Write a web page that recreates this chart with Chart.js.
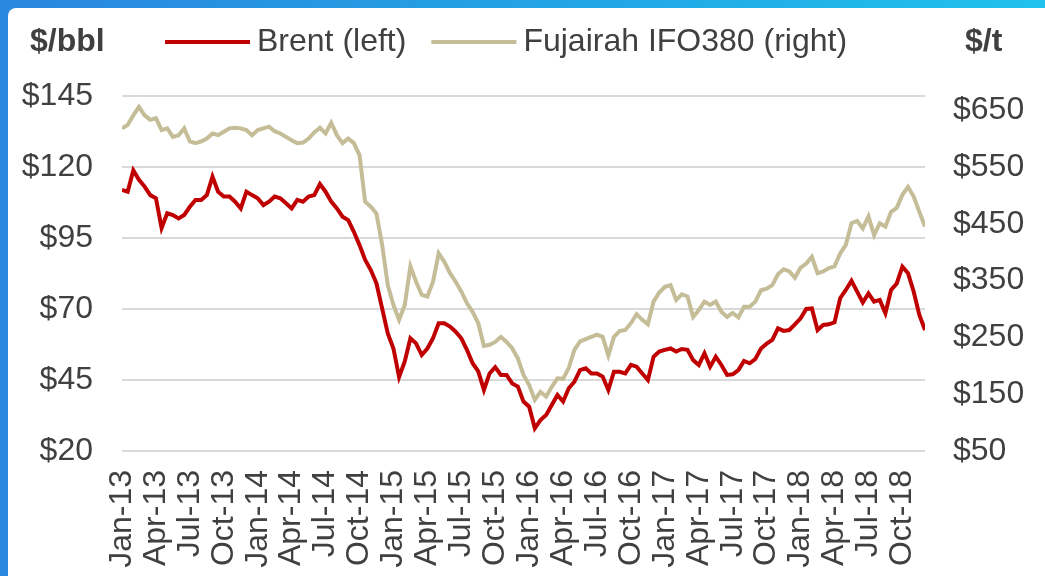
<!DOCTYPE html>
<html>
<head>
<meta charset="utf-8">
<script src="https://cdn.jsdelivr.net/npm/chart.js@4.4.1/dist/chart.umd.min.js"></script>
<style>
  html, body { margin: 0; padding: 0; background: #ffffff; }
  #wrap { position: relative; width: 1045px; height: 576px; overflow: hidden;
          background: linear-gradient(90deg, #2a86de 0%, #22a8e6 60%, #20c2ec 100%); }
  #panel { position: absolute; left: 8px; top: 8px; right: 0; bottom: 0; background: #ffffff;
           border-top-left-radius: 8px; }
  #c { position: absolute; left: 0; top: 0; }
</style>
</head>
<body>
<div id="wrap">
  <div id="panel"></div>
  <canvas id="c" width="1045" height="576"></canvas>
</div>
<script>
// ---- Data (semi-monthly readings, Jan 2013 -> Nov 2018) ----
const quarterLabels = ['Jan-13','Apr-13','Jul-13','Oct-13','Jan-14','Apr-14','Jul-14','Oct-14',
  'Jan-15','Apr-15','Jul-15','Oct-15','Jan-16','Apr-16','Jul-16','Oct-16',
  'Jan-17','Apr-17','Jul-17','Oct-17','Jan-18','Apr-18','Jul-18','Oct-18'];
const leftTicks = [20, 45, 70, 95, 120, 145];
const rightTicks = [50, 150, 250, 350, 450, 550, 650];

const brentLabel = 'Brent (left)';
const ifoLabel = 'Fujairah IFO380 (right)';

const brent = [
  111.9,111.3,118.8,115.5,113.1,110.1,109.0,98.5,103.7,103.1,101.9,103.1,
  106.0,108.4,108.4,110.1,116.6,111.3,109.6,109.6,107.8,105.4,111.3,110.1,
  109.0,106.6,107.8,109.6,109.0,107.2,105.4,108.4,107.8,109.6,110.1,114.0,
  111.3,107.8,105.4,102.5,101.3,97.2,92.5,87.3,83.7,79.0,70.2,61.4,
  56.1,46.0,51.5,59.7,57.9,53.8,56.1,59.7,65.0,65.0,63.8,62.0,
  59.7,55.6,50.9,48.0,41.5,47.3,49.5,46.8,46.8,43.8,42.7,37.4,
  35.6,28.0,30.9,32.7,36.2,39.7,37.4,42.1,44.4,48.5,49.1,47.3,
  47.3,46.2,41.5,47.9,47.9,47.3,50.3,49.7,47.3,45.0,53.2,55.0,
  55.6,56.1,55.0,55.9,55.6,52.0,50.3,54.4,49.7,53.2,50.3,46.8,
  47.0,48.5,51.7,50.9,52.4,56.1,57.8,59.1,63.2,62.3,62.6,64.6,
  66.7,70.0,70.2,62.6,64.4,64.6,65.3,73.8,76.7,79.9,76.1,72.3,
  75.5,72.6,73.2,68.5,76.7,79.0,84.9,82.6,76.1,67.9,62.6
];
const ifo380 = [
  618,624,641,656,641,633,636,615,618,603,606,618,
  595,592,595,600,609,606,612,618,619,618,615,606,
  615,618,621,613,609,603,597,592,593,600,611,619,
  609,628,606,592,600,592,571,489,480,468,413,342,
  307,281,307,375,348,325,322,348,398,383,363,348,
  331,310,295,275,235,237,242,251,242,231,213,184,
  166,140,154,146,163,178,177,196,228,243,247,251,
  255,251,218,251,261,263,275,291,281,273,313,329,
  339,342,316,326,322,286,298,313,307,313,295,286,
  293,285,304,304,313,333,336,342,361,370,366,355,
  373,380,392,363,366,372,375,398,413,451,455,442,
  463,430,451,445,471,478,501,515,498,471,445
];

// ---- Styling ----
const FONT = '"Liberation Sans", Arial, sans-serif';
const TEXT = '#404040';
const RED = '#c00000';
const TAN = '#c4bd97';

const toPoints = arr => arr.map((v, i) => ({ x: i / 2, y: v }));

const headerPlugin = {
  id: 'header',
  afterDraw(chart, args, opts) {
    const ctx = chart.ctx;
    ctx.save();
    ctx.fillStyle = TEXT;
    ctx.textBaseline = 'middle';
    ctx.textAlign = 'left';
    ctx.font = 'bold 32px ' + FONT;
    ctx.fillText(opts.leftUnit, 30, 42);
    ctx.fillText(opts.rightUnit, 965, 42);
    ctx.font = '32px ' + FONT;
    let x = 165;
    chart.data.datasets.forEach(ds => {
      ctx.strokeStyle = ds.borderColor;
      ctx.lineWidth = 4;
      ctx.beginPath();
      ctx.moveTo(x, 42);
      ctx.lineTo(x + 85, 42);
      ctx.stroke();
      x += 85 + 7;
      ctx.fillStyle = TEXT;
      ctx.fillText(ds.label, x, 42);
      x += ctx.measureText(ds.label).width + 25;
    });
    ctx.restore();
  }
};

new Chart(document.getElementById('c'), {
  type: 'line',
  data: {
    datasets: [
      { label: brentLabel, data: toPoints(brent), yAxisID: 'y', borderColor: RED,
        backgroundColor: RED, borderWidth: 4, pointRadius: 0, tension: 0, fill: false },
      { label: ifoLabel, data: toPoints(ifo380), yAxisID: 'y1', borderColor: TAN,
        backgroundColor: TAN, borderWidth: 4, pointRadius: 0, tension: 0, fill: false }
    ]
  },
  options: {
    responsive: false,
    animation: false,
    devicePixelRatio: 1,
    layout: { padding: { top: 96, left: 0, right: 0, bottom: 0 } },
    plugins: {
      legend: { display: false },
      tooltip: { enabled: false },
      header: { leftUnit: '$/bbl', rightUnit: '$/t' }
    },
    scales: {
      x: {
        type: 'linear', min: 0, max: (brent.length - 1) / 2,
        afterBuildTicks: s => { s.ticks = quarterLabels.map((l, k) => ({ value: 3 * k })); },
        afterFit: s => { s.height = 125; },
        grid: { display: false, drawTicks: false },
        border: { display: false },
        ticks: {
          autoSkip: false, maxRotation: 90, minRotation: 90, padding: 19,
          color: TEXT, font: { family: FONT, size: 32 },
          callback: v => quarterLabels[Math.round(v / 3)]
        }
      },
      y: {
        position: 'left', min: 20, max: 145,
        afterBuildTicks: s => { s.ticks = leftTicks.map(v => ({ value: v })); },
        afterFit: s => { s.width = 122; },
        grid: { color: '#d9d9d9', lineWidth: 2, drawTicks: false },
        border: { display: false },
        ticks: { padding: 29, color: TEXT, font: { family: FONT, size: 32 }, callback: v => '$' + v }
      },
      y1: {
        position: 'right', min: 50, max: 675,
        afterBuildTicks: s => { s.ticks = rightTicks.map(v => ({ value: v })); },
        afterFit: s => { s.width = 120; },
        grid: { display: false, drawTicks: false },
        border: { display: false },
        ticks: { padding: 28, color: TEXT, font: { family: FONT, size: 32 }, callback: v => '$' + v }
      }
    }
  },
  plugins: [headerPlugin]
});
</script>
</body>
</html>
